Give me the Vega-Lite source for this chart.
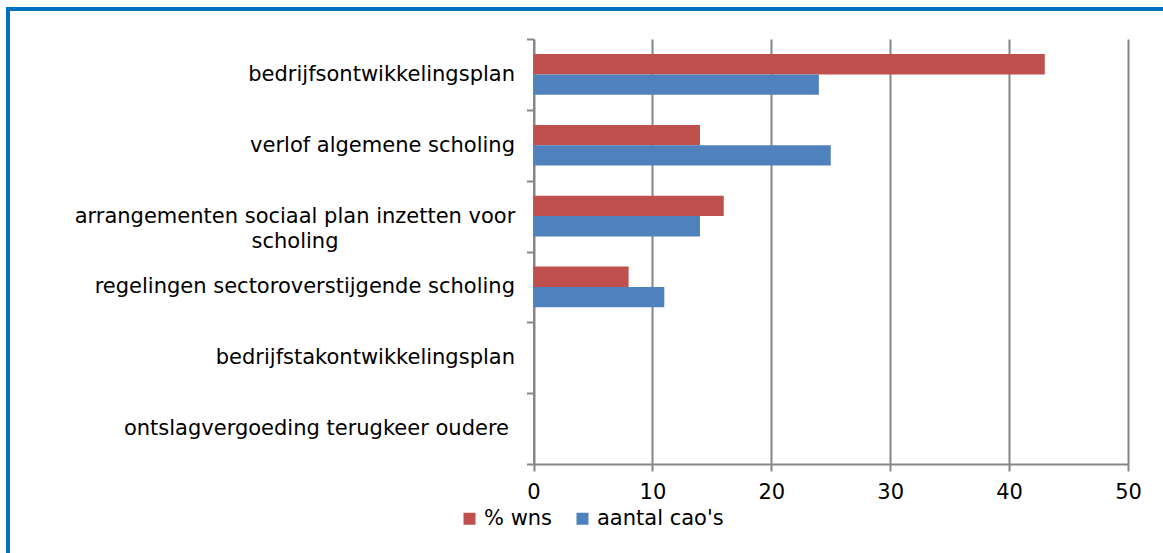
{
  "$schema": "https://vega.github.io/schema/vega-lite/v6.json",
  "width": 1163,
  "height": 553,
  "autosize": {"type": "none"},
  "padding": {"left": 8, "top": 9, "right": 0, "bottom": 0},
  "background": "white",
  "title": {
    "text": "Grafiek 9.5 – Afspraken over algemene scholing",
    "anchor": "start",
    "frame": "group",
    "font": "DejaVu Sans",
    "fontSize": 16,
    "fontWeight": "bold",
    "color": "black",
    "offset": 2
  },
  "config": {
    "view": {"stroke": "#0070C0", "strokeWidth": 4, "fill": "white"},
    "font": "DejaVu Sans"
  },
  "data": {
    "values": [
      {"categorie": "bedrijfsontwikkelingsplan", "reeks": "% wns", "waarde": 43},
      {"categorie": "bedrijfsontwikkelingsplan", "reeks": "aantal cao's", "waarde": 24},
      {"categorie": "verlof algemene scholing", "reeks": "% wns", "waarde": 14},
      {"categorie": "verlof algemene scholing", "reeks": "aantal cao's", "waarde": 25},
      {"categorie": "arrangementen sociaal plan inzetten voor scholing", "reeks": "% wns", "waarde": 16},
      {"categorie": "arrangementen sociaal plan inzetten voor scholing", "reeks": "aantal cao's", "waarde": 14},
      {"categorie": "regelingen sectoroverstijgende scholing", "reeks": "% wns", "waarde": 8},
      {"categorie": "regelingen sectoroverstijgende scholing", "reeks": "aantal cao's", "waarde": 11},
      {"categorie": "bedrijfstakontwikkelingsplan", "reeks": "% wns", "waarde": 0},
      {"categorie": "bedrijfstakontwikkelingsplan", "reeks": "aantal cao's", "waarde": 0},
      {"categorie": "ontslagvergoeding terugkeer oudere", "reeks": "% wns", "waarde": 0},
      {"categorie": "ontslagvergoeding terugkeer oudere", "reeks": "aantal cao's", "waarde": 0}
    ]
  },
  "encoding": {
    "yOffset": {
      "field": "reeks",
      "type": "nominal",
      "sort": ["% wns", "aantal cao's"],
      "scale": {"paddingInner": 0, "paddingOuter": 0.745}
    }
  },
  "layer": [
    {
      "mark": {"type": "bar", "opacity": 0},
      "encoding": {
        "y": {
          "field": "categorie",
          "type": "nominal",
          "sort": [
            "bedrijfsontwikkelingsplan",
            "verlof algemene scholing",
            "arrangementen sociaal plan inzetten voor scholing",
            "regelingen sectoroverstijgende scholing",
            "bedrijfstakontwikkelingsplan",
            "ontslagvergoeding terugkeer oudere"
          ],
          "scale": {"range": [30, 455], "paddingInner": 0, "paddingOuter": 0},
          "axis": null
        },
        "x": {
          "field": "waarde",
          "type": "quantitative",
          "scale": {"domain": [0, 50], "range": [525.5, 1120], "nice": false, "zero": true},
          "axis": {
            "title": null,
            "orient": "top",
            "values": [0, 10, 20, 30, 40, 50],
            "grid": true,
            "gridColor": "#868686",
            "gridWidth": 2,
            "domain": false,
            "ticks": false,
            "labels": false
          }
        }
      }
    },
    {
      "mark": {"type": "bar"},
      "encoding": {
        "y": {
          "field": "categorie",
          "type": "nominal",
          "sort": [
            "bedrijfsontwikkelingsplan",
            "verlof algemene scholing",
            "arrangementen sociaal plan inzetten voor scholing",
            "regelingen sectoroverstijgende scholing",
            "bedrijfstakontwikkelingsplan",
            "ontslagvergoeding terugkeer oudere"
          ],
          "scale": {"range": [30, 455], "paddingInner": 0, "paddingOuter": 0},
          "axis": {
            "title": null,
            "offset": -525.5,
            "domainColor": "#868686",
            "domainWidth": 2,
            "tickColor": "#868686",
            "tickWidth": 2,
            "tickSize": 7,
            "tickBand": "extent",
            "labelFont": "DejaVu Sans",
            "labelFontSize": 21,
            "labelColor": "black",
            "labelLimit": 0,
            "labelLineHeight": 25,
            "labelAlign": {
              "condition": {"test": "datum.value == 'arrangementen sociaal plan inzetten voor scholing'", "value": "center"},
              "value": "right"
            },
            "labelPadding": {
              "condition": [
                {"test": "datum.value == 'arrangementen sociaal plan inzetten voor scholing'", "value": 232},
                {"test": "datum.value == 'ontslagvergoeding terugkeer oudere'", "value": 18}
              ],
              "value": 12
            },
            "labelExpr": "datum.value == 'arrangementen sociaal plan inzetten voor scholing' ? ['arrangementen sociaal plan inzetten voor', 'scholing'] : datum.value"
          }
        },
        "x": {
          "field": "waarde",
          "type": "quantitative",
          "scale": {"domain": [0, 50], "range": [525.5, 1120], "nice": false, "zero": true},
          "axis": {
            "title": null,
            "orient": "bottom",
            "offset": -98,
            "values": [0, 10, 20, 30, 40, 50],
            "grid": false,
            "domainColor": "#868686",
            "domainWidth": 2,
            "tickColor": "#868686",
            "tickWidth": 2,
            "tickSize": 7,
            "labelFont": "DejaVu Sans",
            "labelFontSize": 21,
            "labelColor": "black",
            "labelPadding": 10,
            "labelFlush": false
          }
        },
        "color": {
          "field": "reeks",
          "type": "nominal",
          "sort": ["% wns", "aantal cao's"],
          "scale": {"domain": ["% wns", "aantal cao's"], "range": ["#C0504D", "#4F81BD"]},
          "legend": {
            "title": null,
            "orient": "none",
            "legendX": 451,
            "legendY": 499,
            "direction": "horizontal",
            "symbolType": "square",
            "symbolSize": 144,
            "symbolStrokeWidth": 0,
            "labelFont": "DejaVu Sans",
            "labelFontSize": 21,
            "labelColor": "black",
            "labelOffset": 4,
            "columnPadding": 19
          }
        }
      }
    }
  ],
  "resolve": {"axis": {"x": "independent", "y": "independent"}}
}
